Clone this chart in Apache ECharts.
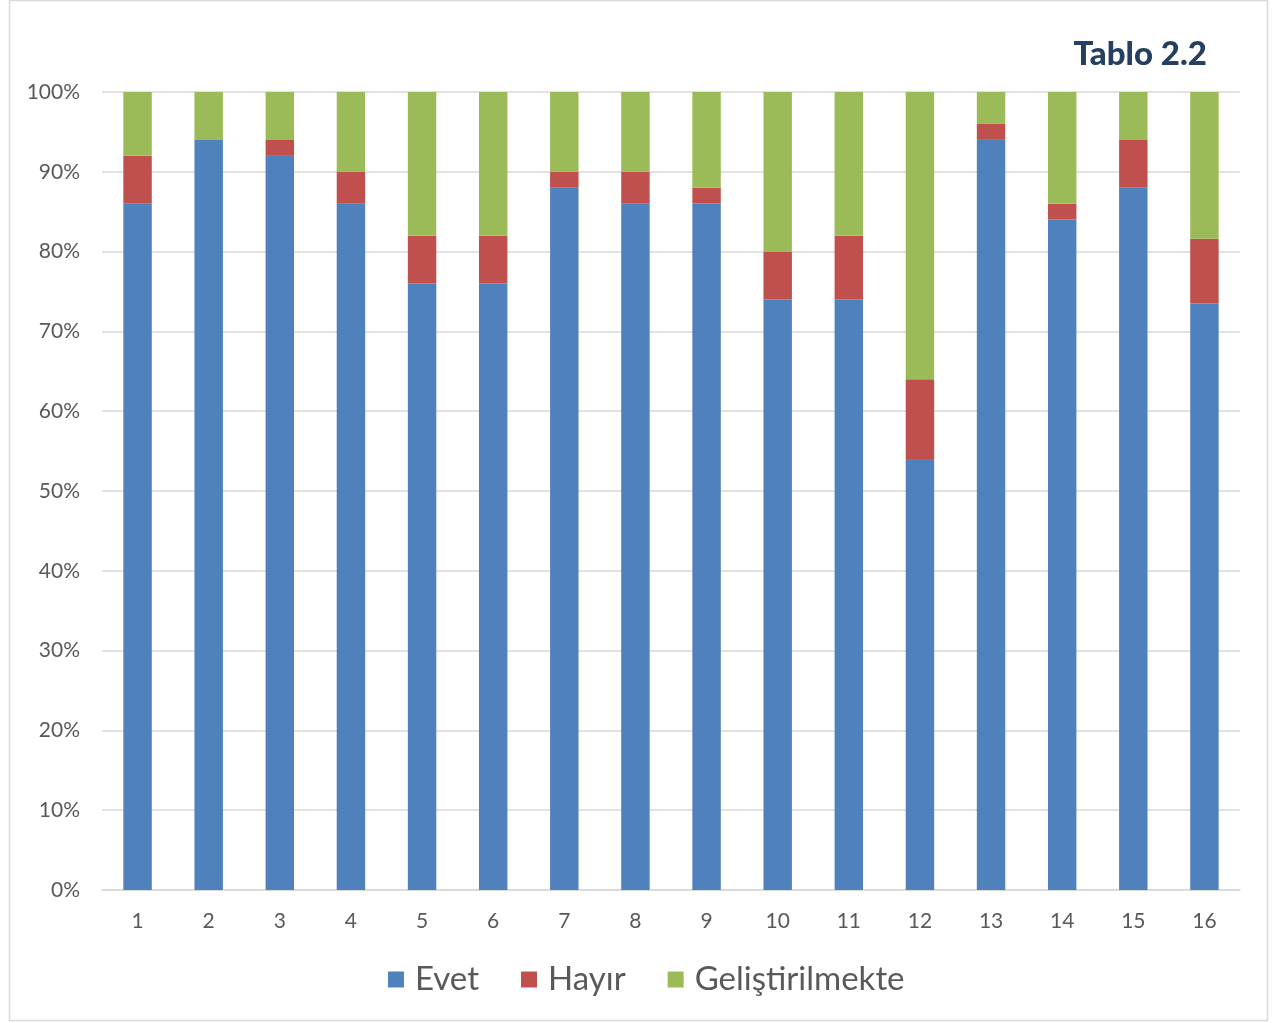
<!DOCTYPE html>
<html>
<head>
<meta charset="utf-8">
<script src="https://cdn.jsdelivr.net/npm/echarts@6/dist/echarts.min.js"></script>
<style>
  html, body { margin: 0; padding: 0; background: #ffffff; }
  #chart { width: 1274px; height: 1023px; }
</style>
</head>
<body>
<div id="chart"></div>
<script>
// Survey answers per question, in percent of respondents
const categories = ['1','2','3','4','5','6','7','8','9','10','11','12','13','14','15','16'];
const evet = [86, 94, 92, 86, 76, 76, 88, 86, 86, 74, 74, 54, 94, 84, 88, 73.5];
const hayir = [6, 0, 2, 4, 6, 6, 2, 4, 2, 6, 8, 10, 2, 2, 6, 8.1];
const gelistirilmekte = [8, 6, 6, 10, 18, 18, 10, 10, 12, 20, 18, 36, 4, 14, 6, 18.4];
const yTicks = [0, 10, 20, 30, 40, 50, 60, 70, 80, 90, 100];

const seriesNames = ['Evet', 'Hayır', 'Geliştirilmekte'];
const seriesColors = ['#4F81BD', '#C0504D', '#9BBB59'];
const seriesData = [evet, hayir, gelistirilmekte];

const chart = echarts.init(document.getElementById('chart'));

chart.setOption({
  animation: false,
  backgroundColor: '#ffffff',
  textStyle: { fontFamily: 'Lato' },
  title: {
    text: 'Tablo 2.2',
    right: 62,
    top: 33,
    textStyle: { fontFamily: 'Lato', fontWeight: 900, fontSize: 33, color: '#243F60' }
  },
  legend: {
    data: seriesNames,
    bottom: 22,
    left: 383,
    itemWidth: 16,
    itemHeight: 16,
    itemGap: 42,
    icon: 'rect',
    textStyle: { fontSize: 33, color: '#595959', padding: [0, 0, 0, 6] }
  },
  grid: { left: 102, right: 34, top: 92, bottom: 133 },
  xAxis: {
    type: 'category',
    data: categories,
    axisLine: { lineStyle: { color: '#D9D9D9', width: 1.5 } },
    axisTick: { show: false },
    axisLabel: { fontSize: 21, color: '#595959', margin: 21 }
  },
  yAxis: {
    type: 'value',
    min: yTicks[0],
    max: yTicks[yTicks.length - 1],
    interval: yTicks[1] - yTicks[0],
    axisLine: { show: false },
    axisTick: { show: false },
    splitLine: { lineStyle: { color: '#D9D9D9', width: 1.5 } },
    axisLabel: { fontSize: 21, color: '#595959', margin: 22, formatter: '{value}%' }
  },
  series: seriesNames.map((name, i) => ({
    name: name,
    type: 'bar',
    stack: 'total',
    barWidth: '40%',
    data: seriesData[i],
    itemStyle: { color: seriesColors[i] }
  })),
  graphic: [{
    type: 'rect',
    shape: { x: 9.5, y: 0.5, width: 1258, height: 1020 },
    style: { fill: 'none', stroke: '#D9D9D9', lineWidth: 1.5 },
    silent: true
  }]
});
</script>
</body>
</html>
